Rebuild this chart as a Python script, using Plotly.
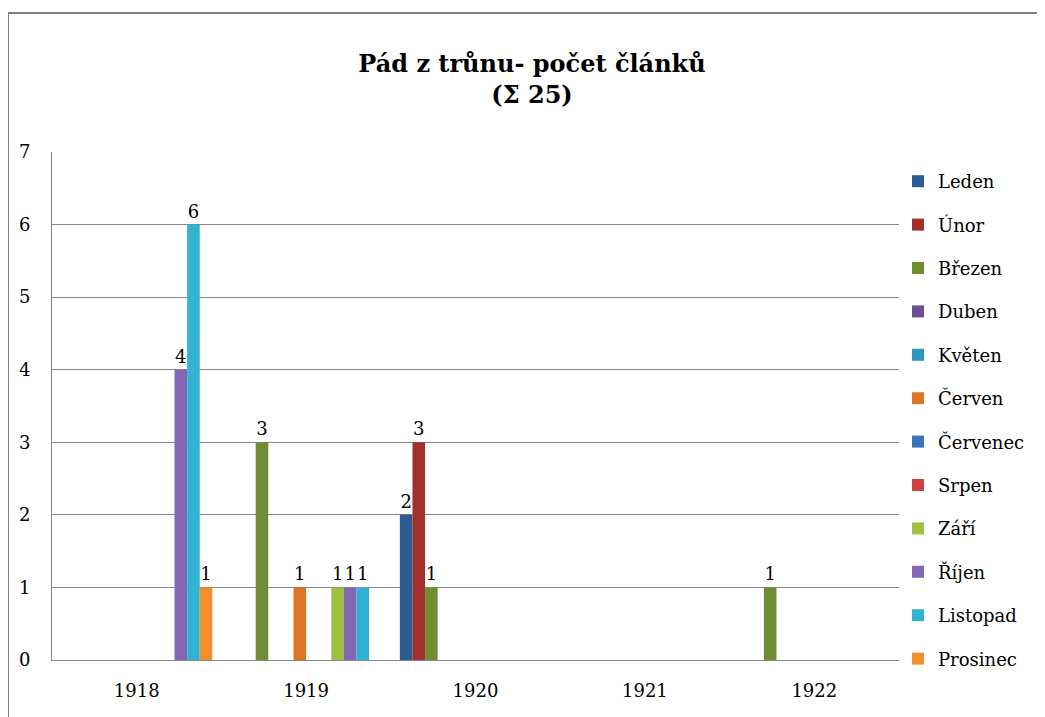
import plotly.graph_objects as go

years = ["1918", "1919", "1920", "1921", "1922"]
months = ["Leden", "Únor", "Březen", "Duben", "Květen", "Červen",
          "Červenec", "Srpen", "Září", "Říjen", "Listopad", "Prosinec"]

# article counts per month, per year (1918..1922)
leden    = [0, 0, 2, 0, 0]
unor     = [0, 0, 3, 0, 0]
brezen   = [0, 3, 1, 0, 1]
duben    = [0, 0, 0, 0, 0]
kveten   = [0, 0, 0, 0, 0]
cerven   = [0, 1, 0, 0, 0]
cervenec = [0, 0, 0, 0, 0]
srpen    = [0, 0, 0, 0, 0]
zari     = [0, 1, 0, 0, 0]
rijen    = [4, 1, 0, 0, 0]
listopad = [6, 1, 0, 0, 0]
prosinec = [1, 0, 0, 0, 0]

series = [leden, unor, brezen, duben, kveten, cerven,
          cervenec, srpen, zari, rijen, listopad, prosinec]
colors = ["#2D5C93", "#A3302D", "#6F8E34", "#6C4F94", "#2A98B6", "#DD7622",
          "#3A74BC", "#D0423E", "#9DC143", "#8466B5", "#33B3D4", "#F38E2C"]

FONT = "DejaVu Serif"

fig = go.Figure()
for name, vals, col in zip(months, series, colors):
    fig.add_trace(go.Bar(
        x=years, y=vals, name=name, legendgroup=name,
        marker=dict(color=col, line=dict(width=0)),
        text=[str(v) if v else "" for v in vals],
        textposition="outside",
        textfont=dict(family=FONT, size=18, color="black"),
        cliponaxis=False,
    ))

OFF = 8  # page body margin
W, H = 1045, 717
L = 52 - OFF
T = 152 - OFF
R = W - (899 - OFF)
B = H - (660 - OFF)
pw, ph = W - L - R, H - T - B


def px_x(p):
    return (p - OFF - L) / pw


def px_y(p):
    return (H - B - (p - OFF)) / ph


fig.update_layout(
    width=W, height=H,
    margin=dict(l=L, r=R, t=T, b=B, autoexpand=False),
    paper_bgcolor="white", plot_bgcolor="white",
    font=dict(family=FONT, size=18, color="black"),
    barmode="group", bargap=0.107, bargroupgap=0,
    title=dict(text="<b>Pád z trůnu- počet článků<br>(Σ 25)</b>",
               x=(532 - OFF) / W, xanchor="center", y=1 - (72 - OFF) / H, yanchor="top",
               font=dict(family=FONT, size=24, color="black")),
    legend=dict(x=px_x(898), xanchor="left", y=px_y(163), yanchor="top",
                traceorder="grouped", tracegroupgap=17, maxheight=680,
                font=dict(family=FONT, size=18, color="black"),
                itemwidth=30, bgcolor="rgba(0,0,0,0)"),
    xaxis=dict(showgrid=False, showline=True, linecolor="#868686", linewidth=1,
               ticks="", tickfont=dict(family=FONT, size=18), ticklabelstandoff=14),
    yaxis=dict(range=[0, 7], dtick=1, showgrid=True, gridcolor="#868686", gridwidth=1,
               showline=True, linecolor="#868686", linewidth=1, zeroline=False,
               ticks="", tickfont=dict(family=FONT, size=18), ticklabelstandoff=17),
    shapes=[dict(type="rect", xref="paper", yref="paper",
                 x0=px_x(8), x1=px_x(1060),
                 y0=px_y(730), y1=px_y(13),
                 line=dict(color="#808080", width=2), fillcolor="rgba(0,0,0,0)",
                 layer="below")],
)

fig.write_html("out.html")
